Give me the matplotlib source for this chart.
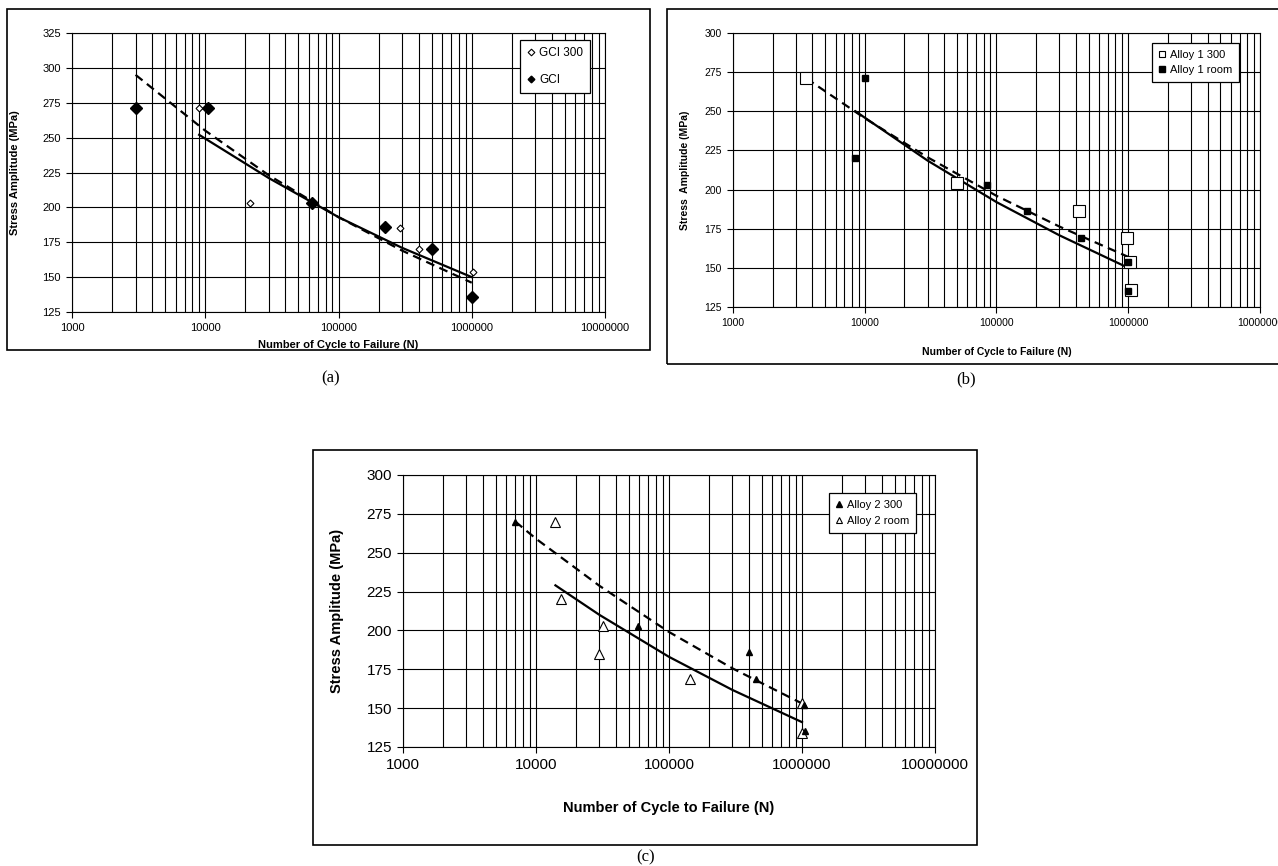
import matplotlib
matplotlib.use("Agg")
import matplotlib.pyplot as plt
from matplotlib.lines import Line2D
from matplotlib.patches import Rectangle
from matplotlib.ticker import LogLocator, FixedLocator, NullFormatter, FuncFormatter

plt.rcParams['font.family'] = ['Liberation Sans', 'DejaVu Sans']

# ---------------- data: panel (a) ----------------
a_gci300_n = [9000, 21800, 290000, 405000, 1020000]
a_gci300_s = [271, 203, 185, 170, 154]
a_gci_n = [3000, 10500, 63800, 225000, 500000, 1000000]
a_gci_s = [271, 271, 203, 186, 170, 136]
a_trend_dash_n = [3000, 10000, 30000, 100000, 300000, 1000000]
a_trend_dash_s = [295, 255, 223, 193, 169, 146]
a_trend_solid_n = [9000, 30000, 100000, 300000, 1000000]
a_trend_solid_s = [252, 221, 193, 171, 150]

# ---------------- data: panel (b) ----------------
b_a1_300_n = [3600, 50000, 420000, 970000, 1030000, 1050000]
b_a1_300_s = [271, 204, 186, 169, 154, 136]
b_a1_room_n = [10000, 8500, 85000, 170000, 440000, 990000, 990000]
b_a1_room_s = [271, 220, 203, 186, 169, 154, 135]
b_trend_dash_n = [3600, 10000, 30000, 100000, 300000, 1000000]
b_trend_dash_s = [271, 245.6, 220.6, 196, 176.4, 157]
b_trend_solid_n = [8500, 30000, 100000, 300000, 1000000]
b_trend_solid_s = [250, 218.5, 192, 170.8, 150]

# ---------------- data: panel (c) ----------------
c_a2_300_n = [7000, 58000, 400000, 450000, 1040000, 1050000]
c_a2_300_s = [270, 203, 186, 169, 152, 135]
c_a2_room_n = [14000, 15500, 32000, 30000, 145000, 1000000, 1000000]
c_a2_room_s = [270, 220, 203, 185, 169, 153, 134]
c_trend_dash_n = [7000, 10000, 30000, 100000, 300000, 1000000]
c_trend_dash_s = [270, 259, 228.7, 199, 175.6, 153]
c_trend_solid_n = [14000, 30000, 100000, 300000, 1000000]
c_trend_solid_s = [229, 210, 183, 161.7, 141]

x_ticks = [1000, 10000, 100000, 1000000, 10000000]
x_label = "Number of Cycle to Failure (N)"

W, H = 1278, 866
fig = plt.figure(figsize=(W / 100, H / 100), dpi=100)


def px_axes(x0, y0, x1, y1):
    return fig.add_axes([x0 / W, 1 - y1 / H, (x1 - x0) / W, (y1 - y0) / H])


def px_box(x0, y0, x1, y1):
    fig.add_artist(Rectangle((x0 / W, 1 - y1 / H), (x1 - x0) / W, (y1 - y0) / H,
                             transform=fig.transFigure, fill=False,
                             edgecolor='black', linewidth=1.2, zorder=0))


def style_axes(ax, ymin, ymax, tick_fs, label_fs, ylabel, ylab_x, xlab_y):
    ax.set_xscale('log')
    ax.set_xlim(1000, 10000000)
    ax.set_ylim(ymin, ymax)
    ax.xaxis.set_major_locator(FixedLocator(x_ticks))
    ax.xaxis.set_major_formatter(FuncFormatter(lambda v, p: f"{int(round(v))}"))
    ax.xaxis.set_minor_locator(LogLocator(base=10, subs=range(2, 10), numticks=20))
    ax.xaxis.set_minor_formatter(NullFormatter())
    ax.set_yticks(list(range(ymin, ymax + 1, 25)))
    ax.grid(True, which='major', color='black', linewidth=0.8)
    ax.grid(True, which='minor', axis='x', color='black', linewidth=0.8)
    ax.set_axisbelow(True)
    ax.tick_params(which='major', direction='out', length=4, width=0.8,
                   labelsize=tick_fs, pad=4, colors='black')
    ax.tick_params(which='minor', length=0)
    for s in ax.spines.values():
        s.set_linewidth(0.8)
        s.set_color('black')
    ax.set_xlabel(x_label, fontsize=label_fs, fontweight='bold')
    ax.set_ylabel(ylabel, fontsize=label_fs, fontweight='bold')
    ax.xaxis.set_label_coords(0.5, xlab_y)
    ax.yaxis.set_label_coords(ylab_x, 0.5)


def add_legend(ax, handles, labels, anchor, fs, spacing):
    leg = ax.legend(handles, labels, loc='upper left', bbox_to_anchor=anchor,
                    frameon=True, fancybox=False, shadow=False, fontsize=fs,
                    handlelength=0.6, handletextpad=0.4, borderpad=0.6,
                    labelspacing=spacing, borderaxespad=0)
    fr = leg.get_frame()
    fr.set_edgecolor('black')
    fr.set_linewidth(0.9)
    fr.set_alpha(1)
    return leg


line_kw = dict(color='black', linewidth=1.6, zorder=3)
dash_kw = dict(color='black', linewidth=1.6, linestyle=(0, (4, 2.5)), zorder=3)

# ---------------- panel (a) ----------------
px_box(7, 9, 650, 350)
axa = px_axes(72, 33, 605, 312)
style_axes(axa, 125, 325, 8, 8, "Stress Amplitude (MPa)", -0.098, -0.10)
axa.plot(a_trend_dash_n, a_trend_dash_s, **dash_kw)
axa.plot(a_trend_solid_n, a_trend_solid_s, **line_kw)
axa.plot(a_gci300_n, a_gci300_s, linestyle='none', marker='D', markersize=3.5,
         markerfacecolor='white', markeredgecolor='black', markeredgewidth=0.8, zorder=4)
axa.plot(a_gci_n, a_gci_s, linestyle='none', marker='D', markersize=6.5,
         markerfacecolor='black', markeredgecolor='black', zorder=4)
ha = [Line2D([], [], linestyle='none', marker='D', markersize=3.4, markerfacecolor='white',
             markeredgecolor='black', markeredgewidth=0.8),
      Line2D([], [], linestyle='none', marker='D', markersize=3.4, markerfacecolor='black',
             markeredgecolor='black')]
add_legend(axa, ha, ["GCI 300", "GCI"], (0.8405, 0.975), 8.5, 1.3)
fig.text(331 / W, 1 - 378 / H, "(a)", ha='center', va='center', fontsize=12,
         family=['Liberation Serif', 'DejaVu Serif'])

# ---------------- panel (b) ----------------
px_box(667, 9, 1290, 364)
axb = px_axes(733, 33, 1260, 307)
style_axes(axb, 125, 300, 7.5, 7.5, "Stress  Amplitude (MPa)", -0.082, -0.146)
axb.plot(b_trend_dash_n, b_trend_dash_s, **dash_kw)
axb.plot(b_trend_solid_n, b_trend_solid_s, **line_kw)
axb.plot(b_a1_300_n, b_a1_300_s, linestyle='none', marker='s', markersize=9,
         markerfacecolor='white', markeredgecolor='black', markeredgewidth=0.8, zorder=4)
axb.plot(b_a1_room_n, b_a1_room_s, linestyle='none', marker='s', markersize=4.8,
         markerfacecolor='black', markeredgecolor='black', zorder=5)
hb = [Line2D([], [], linestyle='none', marker='s', markersize=3.8, markerfacecolor='white',
             markeredgecolor='black', markeredgewidth=0.8),
      Line2D([], [], linestyle='none', marker='s', markersize=3.8, markerfacecolor='black',
             markeredgecolor='black')]
add_legend(axb, hb, ["Alloy 1 300", "Alloy 1 room"], (0.795, 0.9635), 8, 0.5)
fig.text(966 / W, 1 - 379 / H, "(b)", ha='center', va='center', fontsize=12,
         family=['Liberation Serif', 'DejaVu Serif'])

# ---------------- panel (c) ----------------
px_box(313, 450, 977, 845)
axc = px_axes(403, 475, 935, 747)
style_axes(axc, 125, 300, 11, 10.5, "Stress Amplitude (MPa)", -0.11, -0.2)
axc.plot(c_trend_dash_n, c_trend_dash_s, **dash_kw)
axc.plot(c_trend_solid_n, c_trend_solid_s, **line_kw)
axc.plot(c_a2_room_n, c_a2_room_s, linestyle='none', marker='^', markersize=7.7,
         markerfacecolor='white', markeredgecolor='black', markeredgewidth=0.8, zorder=4)
axc.plot(c_a2_300_n, c_a2_300_s, linestyle='none', marker='^', markersize=4.5,
         markerfacecolor='black', markeredgecolor='black', zorder=5)
hc = [Line2D([], [], linestyle='none', marker='^', markersize=4, markerfacecolor='black',
             markeredgecolor='black'),
      Line2D([], [], linestyle='none', marker='^', markersize=4, markerfacecolor='white',
             markeredgecolor='black', markeredgewidth=0.8)]
add_legend(axc, hc, ["Alloy 2 300", "Alloy 2 room"], (0.8008, 0.934), 8, 0.6)
fig.text(646 / W, 1 - 857 / H, "(c)", ha='center', va='center', fontsize=12,
         family=['Liberation Serif', 'DejaVu Serif'])

fig.savefig("out.png", dpi=100, facecolor='white')
